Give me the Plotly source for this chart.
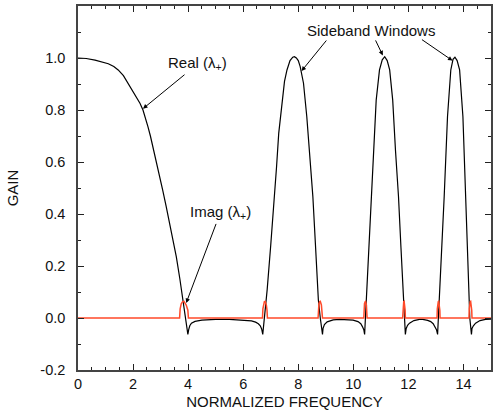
import plotly.graph_objects as go

# Real part (black)
real_x = [0, 0.3, 0.62, 0.9, 1.10, 1.30, 1.46, 1.65, 1.82, 2.0, 2.13, 2.25, 2.36, 2.45, 2.54, 2.63,
          2.72, 2.81, 2.90, 3.0, 3.08, 3.20, 3.33, 3.45, 3.57, 3.70, 3.80, 3.86, 3.93, 3.99,
          4.02, 4.06, 4.12, 4.25, 4.5, 5.0, 5.5, 6.0, 6.3, 6.45, 6.55, 6.62, 6.67, 6.71,
          6.79, 6.87, 7.0, 7.14, 7.21, 7.29, 7.41, 7.50, 7.59, 7.70, 7.80, 7.86, 7.93, 8.0,
          8.07, 8.19, 8.31, 8.43, 8.53, 8.63, 8.73, 8.80, 8.88,
          8.90, 8.95, 9.05, 9.27, 9.5, 9.8, 9.99, 10.17, 10.27, 10.33, 10.38, 10.41,
          10.44, 10.47, 10.56, 10.65, 10.74, 10.83, 10.95, 11.05, 11.14, 11.23, 11.32, 11.43,
          11.53, 11.64, 11.73, 11.82, 11.85, 11.89,
          11.92, 11.97, 12.04, 12.2, 12.40, 12.52, 12.7, 12.81, 12.9, 12.97, 13.02, 13.06,
          13.09, 13.12, 13.21, 13.30, 13.42, 13.54, 13.62, 13.69, 13.77, 13.86, 13.98, 14.08,
          14.14, 14.20, 14.23, 14.29,
          14.31, 14.36, 14.44, 14.6, 14.80, 15.0]
real_y = [1.0, 0.998, 0.992, 0.985, 0.978, 0.967, 0.954, 0.932, 0.903, 0.873, 0.851, 0.826, 0.80, 0.77, 0.736, 0.70,
          0.659, 0.62, 0.582, 0.535, 0.49, 0.43, 0.364, 0.30, 0.236, 0.15, 0.07, 0.02, -0.03, -0.063,
          -0.045, -0.03, -0.02, -0.013, -0.008, -0.005, -0.005, -0.007, -0.011, -0.016, -0.022, -0.03, -0.042, -0.063,
          0.02, 0.108, 0.28, 0.467, 0.58, 0.71, 0.838, 0.91, 0.954, 0.99, 1.003, 1.005, 1.0, 0.99,
          0.967, 0.903, 0.774, 0.62, 0.467, 0.27, 0.069, 0.0, -0.063,
          -0.04, -0.025, -0.015, -0.007, -0.005, -0.006, -0.008, -0.014, -0.022, -0.033, -0.045, -0.063,
          0.0, 0.069, 0.27, 0.467, 0.646, 0.838, 0.954, 0.993, 1.005, 0.99, 0.954, 0.838,
          0.646, 0.467, 0.27, 0.069, 0.0, -0.063,
          -0.04, -0.028, -0.02, -0.01, -0.005, -0.005, -0.009, -0.014, -0.022, -0.033, -0.045, -0.063,
          0.0, 0.069, 0.27, 0.467, 0.774, 0.954, 0.995, 1.003, 0.99, 0.954, 0.774, 0.467,
          0.27, 0.069, 0.0, -0.063,
          -0.04, -0.03, -0.02, -0.01, -0.005, -0.004]

# Imaginary part (red)
imag_x = [0,
          3.69, 3.71, 3.75, 3.80, 3.85, 3.93, 3.99, 4.01,
          6.70, 6.715, 6.74, 6.77, 6.80, 6.84, 6.865, 6.88,
          8.72, 8.733, 8.75, 8.78, 8.80, 8.84, 8.865, 8.88,
          10.38, 10.39, 10.405, 10.43, 10.445, 10.475, 10.49, 10.50,
          11.79, 11.80, 11.81, 11.83, 11.845, 11.87, 11.882, 11.89,
          13.04, 13.05, 13.062, 13.085, 13.10, 13.128, 13.142, 13.15,
          14.20, 14.21, 14.222, 14.245, 14.26, 14.285, 14.30, 14.31,
          15.0]
imag_y = [0,
          0, 0.035, 0.055, 0.063, 0.064, 0.05, 0.03, 0,
          0, 0.035, 0.055, 0.063, 0.064, 0.05, 0.03, 0,
          0, 0.035, 0.055, 0.063, 0.064, 0.05, 0.03, 0,
          0, 0.035, 0.055, 0.063, 0.064, 0.05, 0.03, 0,
          0, 0.035, 0.055, 0.063, 0.064, 0.05, 0.03, 0,
          0, 0.035, 0.055, 0.063, 0.064, 0.05, 0.03, 0,
          0, 0.035, 0.055, 0.063, 0.064, 0.05, 0.03, 0,
          0]

x_tickvals = [0, 2, 4, 6, 8, 10, 12, 14]
y_tickvals = [-0.2, 0.0, 0.2, 0.4, 0.6, 0.8, 1.0, 1.2]
y_ticktext = ["-0.2", "0.0", "0.2", "0.4", "0.6", "0.8", "1.0", "1.2"]

FONT = "Liberation Sans, Arial, Helvetica, sans-serif"

fig = go.Figure()
fig.add_trace(go.Scatter(x=real_x, y=real_y, mode="lines",
                         line=dict(color="black", width=1.2), showlegend=False))
fig.add_trace(go.Scatter(x=imag_x, y=imag_y, mode="lines",
                         line=dict(color="#ff4a2a", width=1.5), showlegend=False))

axis_common = dict(showgrid=False, zeroline=False, showline=True, linecolor="#444",
                   linewidth=1.5, mirror="ticks", ticks="inside", tickcolor="#222",
                   tickwidth=1, ticklen=6,
                   tickfont=dict(family=FONT, size=14.5, color="#111"))

fig.update_xaxes(range=[0, 15], tickvals=x_tickvals,
                 minor=dict(dtick=0.5, ticks="inside", ticklen=3, tickcolor="#222"),
                 title=dict(text="NORMALIZED FREQUENCY", font=dict(family=FONT, size=15, color="#111"),
                            standoff=5),
                 ticklabelstandoff=0,
                 **axis_common)
fig.update_yaxes(range=[-0.2, 1.2], tickvals=y_tickvals, ticktext=y_ticktext,
                 minor=dict(dtick=0.1, ticks="inside", ticklen=3, tickcolor="#222"),
                 title=dict(text="GAIN", font=dict(family=FONT, size=15, color="#111"),
                            standoff=18),
                 ticklabelstandoff=8,
                 **axis_common)

arrow = dict(showarrow=True, arrowhead=2, arrowsize=0.9, arrowwidth=1, arrowcolor="black",
             xref="x", yref="y", font=dict(family=FONT, size=15, color="#111"))

fig.update_layout(
    width=493, height=416,
    margin=dict(l=78, r=0, t=6, b=46),
    paper_bgcolor="white", plot_bgcolor="white",
    annotations=[
        dict(x=2.36, y=0.805, ax=55, ay=-45, text="Real (λ<sub>+</sub>)", **arrow),
        dict(x=3.93, y=0.058, ax=34, ay=-90, text="Imag (λ<sub>+</sub>)", **arrow),
        dict(x=11.07, y=1.01, ax=-12, ay=-25, text="Sideband Windows", **arrow),
        dict(x=8.12, y=0.95, ax=26, ay=-32, text="", **arrow),
        dict(x=13.60, y=0.99, ax=-32, ay=-22, text="", **arrow),
    ],
)

fig.write_html("out.html")
